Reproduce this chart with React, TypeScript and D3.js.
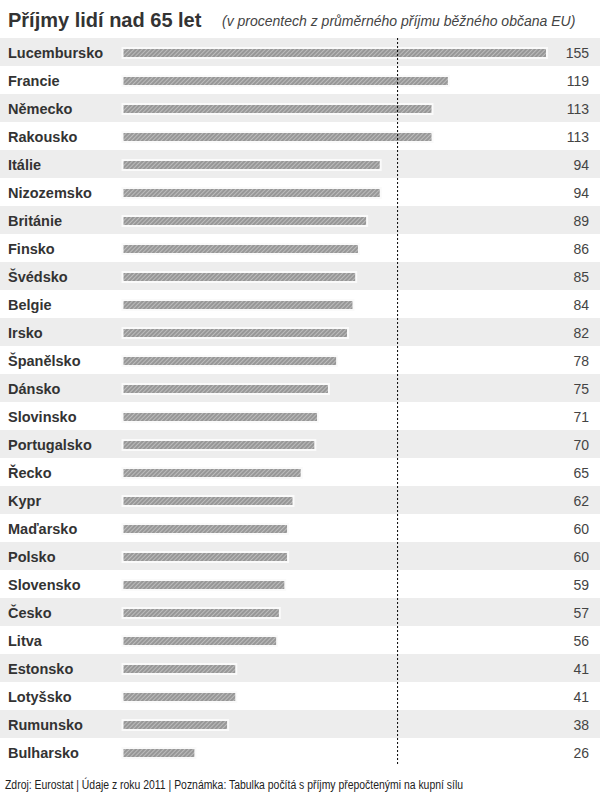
import React from "react";
import * as d3 from "d3";

const countries = ["Lucembursko","Francie","Německo","Rakousko","Itálie","Nizozemsko","Británie","Finsko","Švédsko","Belgie","Irsko","Španělsko","Dánsko","Slovinsko","Portugalsko","Řecko","Kypr","Maďarsko","Polsko","Slovensko","Česko","Litva","Estonsko","Lotyšsko","Rumunsko","Bulharsko"];
const values = [155,119,113,113,94,94,89,86,85,84,82,78,75,71,70,65,62,60,60,59,57,56,41,41,38,26];
const referenceValue = 100;
const title = "Příjmy lidí nad 65 let";
const subtitle = "(v procentech z průměrného příjmu běžného občana EU)";
const footer = "Zdroj: Eurostat | Údaje z roku 2011 | Poznámka: Tabulka počítá s příjmy přepočtenými na kupní sílu";

export default function App() {
  const W = 600, H = 800;
  const x = d3.scaleLinear().domain([0, 155]).range([123.5, 546]);
  const y = d3.scaleBand<string>().domain(countries).range([38, 38 + 28 * countries.length]).padding(0);
  const bh = 8;
  const font = "'Liberation Sans', Arial, sans-serif";
  return (
    <svg width={W} height={H} style={{ position: "absolute", left: 0, top: 0, background: "#fff" }}>
      <defs>
        <pattern id="hatch" patternUnits="userSpaceOnUse" width={3} height={3} patternTransform="rotate(45)">
          <rect width={3} height={3} fill="#979797" />
          <line x1={0.5} y1={0} x2={0.5} y2={3} stroke="#bcbcbc" strokeWidth={1} />
        </pattern>
      </defs>
      <rect width={W} height={H} fill="#fff" />
      <text x={8} y={27} fontFamily={font} fontWeight="bold" fontSize={20} fill="#333">{title}</text>
      <text x={222} y={26} fontFamily={font} fontStyle="italic" fontSize={14} fill="#444">{subtitle}</text>
      {countries.map((c, i) => {
        const yy = y(c)!;
        const cy = yy + y.bandwidth() / 2 + 1;
        return (
          <g key={c}>
            {i % 2 === 0 && <rect x={0} y={yy} width={W} height={y.bandwidth()} fill="#ededed" />}
            <rect x={x(0) - 2} y={cy - bh / 2 - 2} width={x(values[i]) - x(0) + 4} height={bh + 4} fill="#fafafa" />
            <rect x={x(0)} y={cy - bh / 2} width={x(values[i]) - x(0)} height={bh} fill="url(#hatch)" />
            <text x={8} y={cy + 5} fontFamily={font} fontWeight="bold" fontSize={14.5} fill="#333">{c}</text>
            <text x={589} y={cy + 5} textAnchor="end" fontFamily={font} fontSize={14} fill="#444">{values[i]}</text>
          </g>
        );
      })}
      <line x1={x(referenceValue) + 1.5} x2={x(referenceValue) + 1.5} y1={38} y2={764} stroke="#000" strokeWidth={1} strokeDasharray="2,2" />
      <text x={5} y={789} fontFamily={font} fontSize={12} fill="#222" textLength={458} lengthAdjust="spacingAndGlyphs">{footer}</text>
    </svg>
  );
}
